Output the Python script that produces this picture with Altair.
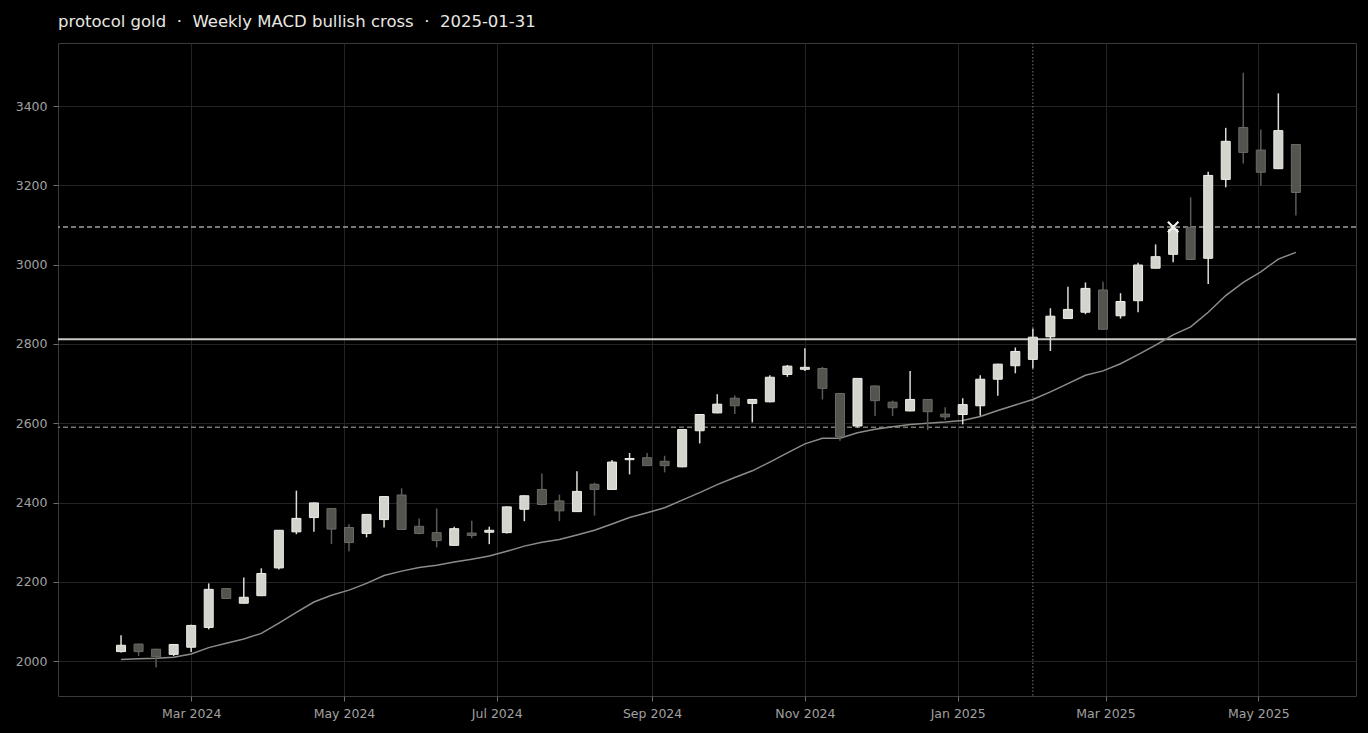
import altair as alt
import pandas as pd
import jinja2

# ---- data ----
dates = [
    "2024-02-02", "2024-02-09", "2024-02-16", "2024-02-23", "2024-03-01", "2024-03-08",
    "2024-03-15", "2024-03-22", "2024-03-29", "2024-04-05", "2024-04-12", "2024-04-19",
    "2024-04-26", "2024-05-03", "2024-05-10", "2024-05-17", "2024-05-24", "2024-05-31",
    "2024-06-07", "2024-06-14", "2024-06-21", "2024-06-28", "2024-07-05", "2024-07-12",
    "2024-07-19", "2024-07-26", "2024-08-02", "2024-08-09", "2024-08-16", "2024-08-23",
    "2024-08-30", "2024-09-06", "2024-09-13", "2024-09-20", "2024-09-27", "2024-10-04",
    "2024-10-11", "2024-10-18", "2024-10-25", "2024-11-01", "2024-11-08", "2024-11-15",
    "2024-11-22", "2024-11-29", "2024-12-06", "2024-12-13", "2024-12-20", "2024-12-27",
    "2025-01-03", "2025-01-10", "2025-01-17", "2025-01-24", "2025-01-31", "2025-02-07",
    "2025-02-14", "2025-02-21", "2025-02-28", "2025-03-07", "2025-03-14", "2025-03-21",
    "2025-03-28", "2025-04-04", "2025-04-11", "2025-04-18", "2025-04-25", "2025-05-02",
    "2025-05-09", "2025-05-16",
]
opens = [
    2024, 2043, 2030, 2017, 2035, 2085, 2183, 2146, 2165, 2235, 2326, 2362,
    2385, 2337, 2322, 2357, 2419, 2340, 2324, 2292, 2323, 2325, 2324, 2383,
    2433, 2404, 2377, 2446, 2433, 2508, 2513, 2504, 2490, 2581, 2626, 2663,
    2650, 2654, 2723, 2736, 2738, 2675, 2593, 2694, 2653, 2631, 2660, 2623,
    2622, 2644, 2711, 2745, 2761, 2818, 2864, 2880, 2936, 2871, 2909, 2991,
    3026, 3094, 3016, 3215, 3346, 3289, 3242, 3303,
]
highs = [
    2065, 2044, 2031, 2043, 2092, 2196, 2184, 2211, 2234, 2331, 2430, 2400,
    2386, 2345, 2371, 2416, 2436, 2360, 2385, 2339, 2354, 2339, 2390, 2418,
    2473, 2420, 2479, 2450, 2507, 2525, 2525, 2518, 2585, 2623, 2673, 2670,
    2661, 2721, 2747, 2789, 2742, 2676, 2714, 2695, 2657, 2732, 2661, 2640,
    2663, 2721, 2750, 2791, 2839, 2890, 2944, 2955, 2957, 2928, 3005, 3051,
    3100, 3170, 3234, 3345, 3484, 3341, 3432, 3304,
]
lows = [
    2022, 2013, 1984, 2013, 2023, 2080, 2157, 2145, 2164, 2231, 2320, 2326,
    2295, 2277, 2312, 2337, 2331, 2320, 2287, 2291, 2310, 2295, 2322, 2353,
    2393, 2353, 2376, 2367, 2432, 2471, 2492, 2476, 2489, 2549, 2625, 2623,
    2602, 2653, 2717, 2732, 2660, 2556, 2589, 2618, 2618, 2630, 2583, 2608,
    2597, 2619, 2669, 2726, 2738, 2782, 2863, 2875, 2836, 2864, 2880, 2990,
    3006, 3012, 2951, 3195, 3255, 3199, 3241, 3124,
]
closes = [
    2040, 2024, 2011, 2042, 2090, 2181, 2158, 2161, 2221, 2330, 2360, 2399,
    2333, 2299, 2370, 2415, 2332, 2322, 2304, 2334, 2317, 2330, 2389, 2417,
    2395, 2379, 2428, 2433, 2502, 2511, 2493, 2493, 2584, 2622, 2648, 2644,
    2660, 2716, 2744, 2741, 2688, 2566, 2713, 2657, 2639, 2660, 2629, 2616,
    2647, 2711, 2749, 2781, 2817, 2870, 2887, 2940, 2837, 2907, 2999, 3020,
    3089, 3013, 3225, 3311, 3283, 3233, 3338, 3182,
]
moving_avg = [
    2004, 2006, 2007, 2010, 2018, 2034, 2045, 2056, 2070, 2096, 2123, 2149,
    2166, 2179, 2196, 2216, 2227, 2236, 2242, 2250, 2257, 2265, 2277, 2290,
    2300, 2307, 2318, 2330, 2346, 2362, 2374, 2387, 2406, 2425, 2445, 2463,
    2480, 2502, 2525, 2548, 2562, 2562, 2576, 2585, 2591, 2597, 2600, 2603,
    2607, 2617, 2632, 2646, 2660, 2679, 2700, 2721, 2732, 2750, 2773, 2797,
    2823, 2843, 2880, 2922, 2955, 2982, 3014, 3031,
]
entry_level = [2812]
target_level = [3095]
stop_level = [2590]
signal_dates = ["2025-01-31"]
hit_dates = ["2025-03-28"]
hit_prices = [3095]
y_ticks = [2000, 2200, 2400, 2600, 2800, 3000, 3200, 3400]
SEP = "\u00a0\u00a0\u00b7\u00a0\u00a0"
title_text = ["protocol gold" + SEP + "Weekly MACD bullish cross" + SEP + "2025-01-31"]

df = pd.DataFrame({"date": dates, "open": opens, "high": highs,
                   "low": lows, "close": closes, "ma": moving_avg})

FONT = "DejaVu Sans"
xscale = alt.Scale(type="utc", padding=0,
                   domain=[alt.DateTime(year=2024, month=1, date=7, hours=20, utc=True),
                           alt.DateTime(year=2025, month=6, date=9, hours=0, utc=True)])
yscale = alt.Scale(domain=[1912, 3559], nice=False, zero=False, padding=0)

xenc = alt.X("date:T", scale=xscale, title=None,
             axis=alt.Axis(format="%b %Y", tickCount={"interval": "month", "step": 2}))
bull = "datum.close >= datum.open"

base = alt.Chart(df)

wicks = base.mark_rule(strokeWidth=1.5).encode(
    x=xenc,
    y=alt.Y("low:Q", scale=yscale, title=None, axis=alt.Axis(values=y_ticks, format="d")),
    y2="high:Q",
    color=alt.condition(bull, alt.value("#dcdcd6"), alt.value("#5a5a56")),
)

bodies = base.mark_bar(size=9, strokeWidth=1).encode(
    x=xenc,
    y=alt.Y("open:Q", scale=yscale),
    y2="close:Q",
    fill=alt.condition(bull, alt.value("#d4d4ce"), alt.value("#54544f")),
    stroke=alt.condition(bull, alt.value("#eeeee8"), alt.value("#6a6a66")),
)

ma_line = base.mark_line(color="#8c8c88", strokeWidth=1.5).encode(
    x=xenc, y=alt.Y("ma:Q", scale=yscale))

entry = alt.Chart(pd.DataFrame({"y": entry_level})).mark_rule(
    color="#c8c8c4", strokeWidth=2).encode(y=alt.Y("y:Q", scale=yscale))
target = alt.Chart(pd.DataFrame({"y": target_level})).mark_rule(
    color="#a0a09c", strokeWidth=1.5, strokeDash=[5, 3]).encode(y=alt.Y("y:Q", scale=yscale))
stop = alt.Chart(pd.DataFrame({"y": stop_level})).mark_rule(
    color="#76766f", strokeWidth=1.5, strokeDash=[5, 3]).encode(y=alt.Y("y:Q", scale=yscale))
signal = alt.Chart(pd.DataFrame({"d": signal_dates})).mark_rule(
    color="#777773", strokeWidth=1, strokeDash=[1.5, 2]).encode(x=alt.X("d:T", scale=xscale))
hit = alt.Chart(pd.DataFrame({"d": hit_dates, "p": hit_prices})).mark_point(
    shape="M-1,-1L1,1M-1,1L1,-1", size=110, strokeWidth=2.2, color="#f2f2ee",
    filled=False, opacity=1).encode(
    x=alt.X("d:T", scale=xscale), y=alt.Y("p:Q", scale=yscale))

title = alt.Chart(pd.DataFrame({"t": title_text})).mark_text(
    align="left", baseline="alphabetic", font=FONT, fontSize=16.5, color="#e8e8e2"
).encode(x=alt.value(0), y=alt.value(-16), text="t:N")

chart = alt.layer(stop, target, entry, signal, ma_line, wicks, bodies, hit, title).properties(
    width=1298, height=653,
    autosize=alt.AutoSizeParams(type="none"),
    padding={"left": 50, "top": 35, "right": 4, "bottom": 29},
    background="#000000",
).configure_view(
    stroke="#3a3a3a", strokeWidth=1, fill="#000000"
).configure_axis(
    zindex=1, grid=True, gridColor="#242424", gridWidth=1, domain=False,
    tickColor="#707070", tickSize=5, labelColor="#a0a0a0", labelFont=FONT,
    labelFontSize=12.5, labelPadding=6,
)

# page template identical to the standard one, with a black page background
BLACK_PAGE = jinja2.Template("""<!DOCTYPE html>
<html>
<head>
  <style>
    html, body { background: #000000; }
    #{{ output_div }}.vega-embed { width: 100%; display: flex; }
    #{{ output_div }}.vega-embed details,
    #{{ output_div }}.vega-embed details summary { position: relative; }
  </style>
  <script type="text/javascript" src="{{ base_url }}/vega@{{ vega_version }}"></script>
  <script type="text/javascript" src="{{ base_url }}/vega-lite@{{ vegalite_version }}"></script>
  <script type="text/javascript" src="{{ base_url }}/vega-embed@{{ vegaembed_version }}"></script>
</head>
<body>
  <div id="{{ output_div }}"></div>
  <script>
    (function(vegaEmbed) {
      var spec = {{ spec }};
      var embedOpt = {{ embed_options }};
      function showError(el, error){
        el.innerHTML = ('<div style="color:red;"><p>JavaScript Error: ' + error.message + '</p></div>');
        throw error;
      }
      const el = document.getElementById('{{ output_div }}');
      vegaEmbed("#{{ output_div }}", spec, embedOpt)
        .catch(error => showError(el, error));
    })(vegaEmbed);
  </script>
</body>
</html>
""")

chart.save("out.html", embed_options={"renderer": "svg", "actions": False}, template=BLACK_PAGE)
